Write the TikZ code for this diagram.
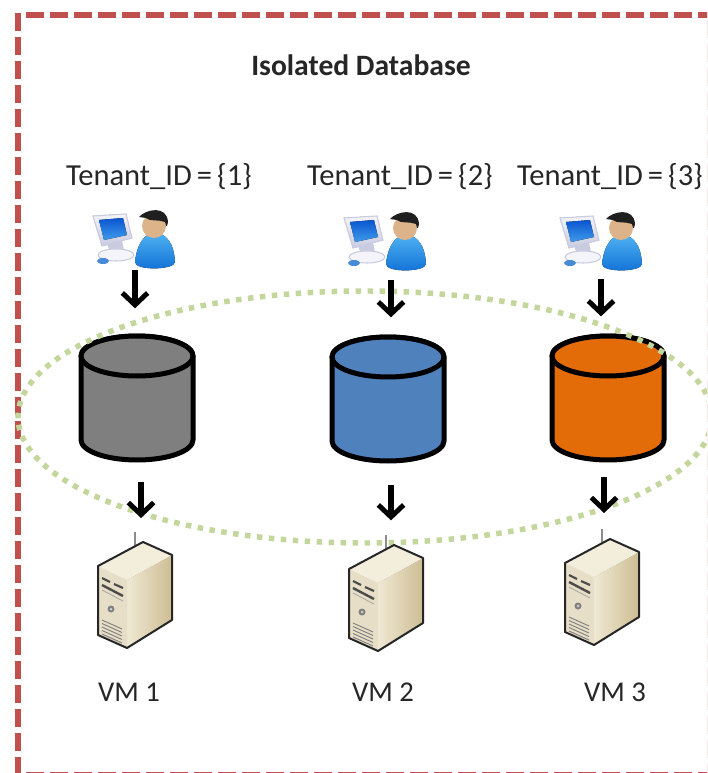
\documentclass[tikz,border=0pt]{standalone}
\usepackage{fontspec}
\setmainfont{Carlito}
\usetikzlibrary{arrows.meta,shapes.geometric}
\definecolor{frameRed}{HTML}{C0504D}
\definecolor{dotGreen}{HTML}{C3D69B}
\definecolor{txt}{HTML}{262626}
\definecolor{dbGray}{HTML}{7F7F7F}
\definecolor{dbBlue}{HTML}{4F81BD}
\definecolor{dbOrange}{HTML}{E36C09}
\definecolor{srvTop}{HTML}{F3EDDC}
\definecolor{srvFront}{HTML}{E6DEC6}
\definecolor{srvSideA}{HTML}{EFE8D3}
\definecolor{srvSideB}{HTML}{CDBD93}
\definecolor{skin}{HTML}{DDB389}
\definecolor{bodyA}{HTML}{4FB2F2}
\definecolor{bodyB}{HTML}{0F6FD6}
\definecolor{screenA}{HTML}{0A55D0}
\definecolor{screenB}{HTML}{3F9BEA}
\definecolor{pcA}{HTML}{F4F4FA}
\definecolor{pcB}{HTML}{C9CBE0}
\tikzset{
  x=0.75pt,y=-0.75pt,
  slot/.style={inner sep=0pt,outer sep=0pt,minimum width=60pt,minimum height=#1*0.75pt},
  txtlabel/.style={text=txt,font=\fontsize{22.9}{24}\selectfont,inner sep=0pt},
  flow/.style={line width=3.9pt,-{Straight Barb[length=9pt,width=19pt,line width=3.7pt]}},
  dbbody/.style={draw=black,line width=3.75pt,fill=#1,line join=round},
  framepart/.style={frameRed,line width=3.9pt,dash pattern=on 13.5pt off 4.5pt},
  userpic/.pic={
    % monitor
    \filldraw[draw=pcB,line width=0.8pt,top color=pcA,bottom color=pcB]
      (93,216) -- (126,214) -- (132,238) -- (102,246) -- cycle;
    \fill[top color=screenA,bottom color=screenB]
      (99,220) -- (123,218) -- (127,235) -- (104,240) -- cycle;
    \fill[pcB] (107,244) -- (122,241) -- (124,250) -- (110,252) -- cycle;
    \filldraw[draw=pcB,line width=0.8pt,fill=pcA] (116,255) ellipse [x radius=18,y radius=6];
    \fill[bodyB!70!pcB] (103,261) ellipse [x radius=6,y radius=3];
    % person
    \fill[top color=bodyA,bottom color=bodyB]
      (135,262) .. controls (137,243) and (145,233) .. (155,233)
      .. controls (166,233) and (174,243) .. (175,262)
      .. controls (175,270) and (135,271) .. (135,262) -- cycle;
    \fill[skin] (154,226) circle [radius=12];
    \fill[black!88] (139,217) .. controls (146,209) and (167,205) .. (168,222)
      .. controls (167,228) and (166,227) .. (165,222)
      .. controls (158,219) and (150,222) .. (146,218) -- cycle;
  },
  serverpic/.pic={
    \draw[black!45,line width=1.2pt] (135,532) -- (135,546);
    \fill[left color=srvSideA,right color=srvSideB]
      (127,580) -- (172,555) -- (172,620) -- (127,648) -- cycle;
    \fill[srvTop] (98,566) -- (143,542) -- (172,555) -- (127,580) -- cycle;
    \fill[srvFront] (98,566) -- (127,580) -- (127,648) -- (98,635) -- cycle;
    \draw[black!85,line width=1.5pt,line join=round]
      (98,566) -- (143,542) -- (172,555) -- (172,620) -- (127,648) -- (98,635) -- cycle;
    \draw[black!70,line width=1.6pt] (102,578) -- (110,582) (114,584) -- (123,588);
    \draw[black!70,line width=1.8pt] (102,585) -- (123,596);
    \draw[black!35,line width=0.6pt] (102,590) -- (123,601);
    \fill[black!50] (111,609) circle [radius=3.5];
    \fill[black!20] (111,609) circle [radius=1.5];
    \foreach \d in {0,3.5,7,10.5,14}
      \draw[black!50,line width=0.7pt] (102,620+\d) -- (122,629+\d);
  },
}
\begin{document}
\begin{tikzpicture}
\useasboundingbox (0,0) rectangle (707,773);
\fill[white] (0,0) rectangle (707,773);

% outer frame (clipped by the page on the right and bottom)
\begin{scope}
\clip (0,0) rectangle (707,773);
\draw[framepart] (18,13) -- (18,775);
\draw[framepart] (26,15) -- (709.5,15);
\draw[framepart] (709.5,20) -- (709.5,775);
\draw[framepart] (26,775) -- (709.5,775);
\end{scope}

\node[txtlabel,font=\fontsize{22.2}{24}\selectfont\bfseries] (title) at (361,65) {Isolated Database};

\node[txtlabel] (t1) at (159,176.5) {Tenant\_ID\,=\,\{1\}};
\node[txtlabel] (t2) at (400,176.5) {Tenant\_ID\,=\,\{2\}};
\node[txtlabel] (t3) at (610,176.5) {Tenant\_ID\,=\,\{3\}};

% client icons
\pic at (0,0) {userpic};
\pic at (251,2) {userpic};
\pic at (467,2) {userpic};
\node[slot=60] (u1) at (135,240) {};
\node[slot=60] (u2) at (391,250) {};
\node[slot=60] (u3) at (601,249) {};

% databases
\node[slot=129] (d1) at (137,397.5) {};
\node[slot=129] (d2) at (388,398.5) {};
\node[slot=129] (d3) at (608,397.5) {};
\foreach \cx/\cy/\col in {137/356/dbGray,388/357/dbBlue,608/356/dbOrange}{
  \draw[dbbody=\col] (\cx-56,\cy) -- (\cx-56,\cy+84)
     arc [start angle=180,end angle=360,x radius=56,y radius=-20]
     -- (\cx+56,\cy) arc [start angle=0,end angle=180,x radius=56,y radius=-20] -- cycle;
  \draw[dbbody=\col] (\cx,\cy) ellipse [x radius=56,y radius=20];
}

% dotted ring
\begin{scope}
\clip (0,0) rectangle (707,773);
\node[draw=dotGreen,line width=4.1pt,dash pattern=on 4.1pt off 4.9pt,ellipse,inner sep=0pt,
  minimum width=520.5pt,minimum height=189pt] (ring) at (365,417) {};
\end{scope}

% servers
\pic at (0,0) {serverpic};
\pic at (251,3) {serverpic};
\pic at (467,-3) {serverpic};
\node[slot=116] (s1) at (141,590) {};
\node[slot=116] (s2) at (391,593) {};
\node[slot=116] (s3) at (604,587) {};

\node[txtlabel,font=\fontsize{21.5}{24}\selectfont] (vm1) at (129,692) {VM 1};
\node[txtlabel,font=\fontsize{21.5}{24}\selectfont] (vm2) at (383,692) {VM 2};
\node[txtlabel,font=\fontsize{21.5}{24}\selectfont] (vm3) at (615,692) {VM 3};

% connectors
\draw[flow,shorten >=18.5pt] (u1.south) -- (u1.south |- d1.north);
\draw[flow,shorten >=12.5pt] (u2.south) -- (u2.south |- d2.north);
\draw[flow,shorten >=12.5pt] (u3.south) -- (u3.south |- d3.north);
\draw[flow,shorten <=15pt,shorten >=10.5pt] (s1.north |- d1.south) -- (s1.north);
\draw[flow,shorten <=16.5pt,shorten >=11pt] (s2.north |- d2.south) -- (s2.north);
\draw[flow,shorten <=11.5pt,shorten >=12pt] (s3.north |- d3.south) -- (s3.north);
\end{tikzpicture}
\end{document}
